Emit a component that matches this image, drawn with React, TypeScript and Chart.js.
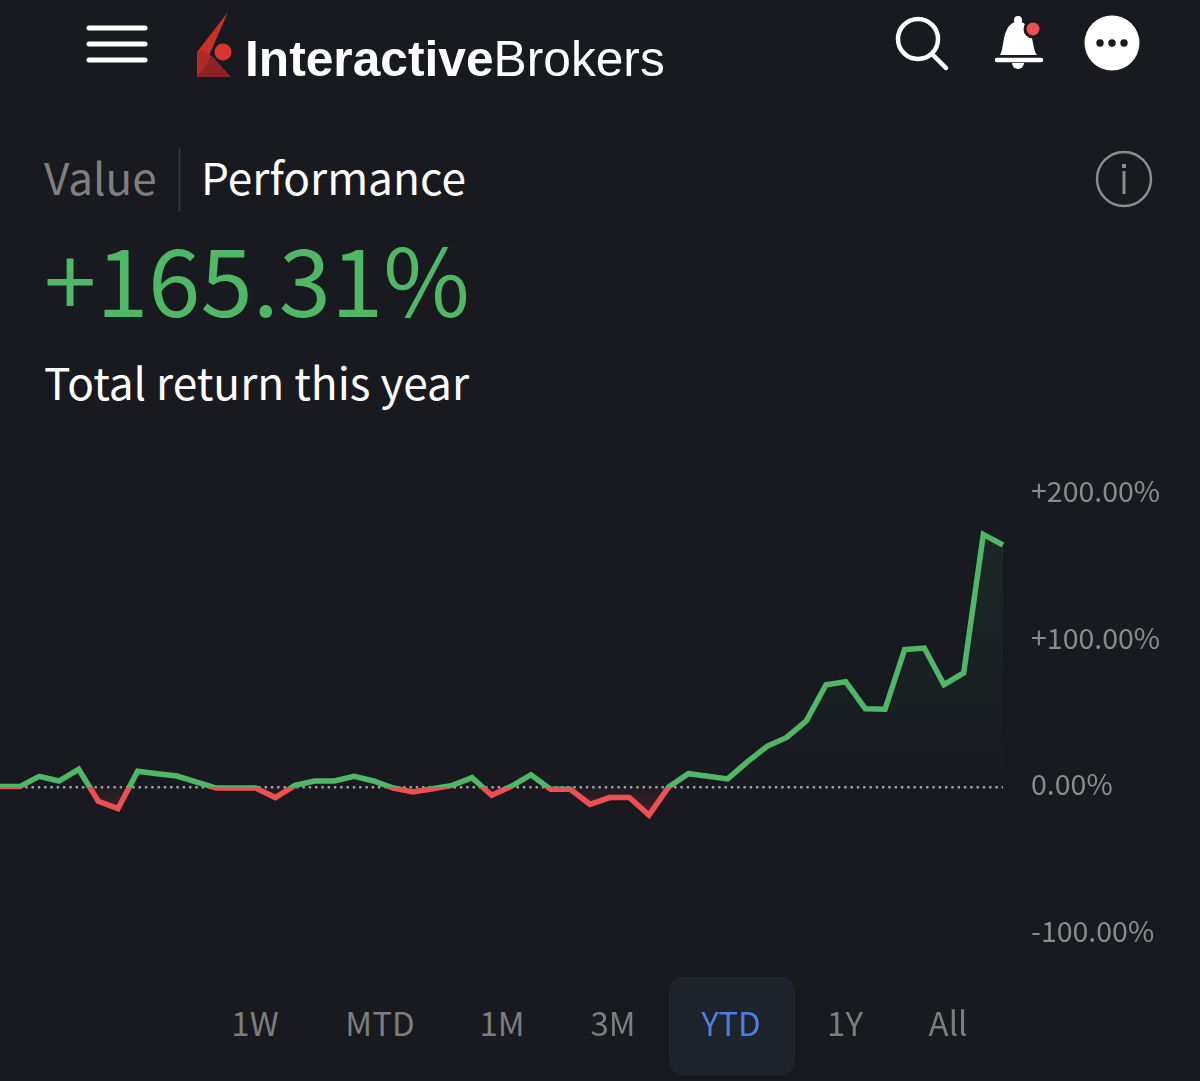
import { useEffect, useRef, type CSSProperties } from 'react'
import Chart from 'chart.js/auto'

// YTD return in %, one point per week
const returns = [
  0.5, 0.5, 7.5, 4.3, 12.3, -9.5, -14.5, 11, 9.3, 7.7, 3.6, -0.5, -0.5,
  -0.5, -7, 1.3, 4.3, 4.3, 7.5, 4.3, -0.5, -3.2, -1, 1.3, 6.6, -5.5,
  0.7, 8.6, -1.4, -1.4, -11.6, -7, -7, -19, 0.2, 9.3, 7.5, 5.7, 17.3,
  28, 34, 45.3, 70, 72, 53.6, 53.2, 94, 95, 70, 78, 172.5, 165.31,
]
const weeks = returns.map((_, i) => `W${i + 1}`)
const tabs = ['1W', 'MTD', '1M', '3M', 'YTD', '1Y', 'All']
const tabCenters = [255, 380, 502, 613, 731, 845, 948]

const GREEN = '#50b766'
const RED = '#ee4f52'
const BG = '#181a20'
const FONT = '"Noto Sans CJK SC", "Noto Sans", sans-serif'

const fmtTick = (v: number) => `${v > 0 ? '+' : ''}${v.toFixed(2)}%`

// share of the chart height at which a value sits
const stopAt = (chart: Chart, v: number) => {
  const { top, bottom } = chart.chartArea
  const y = chart.scales.y.getPixelForValue(v)
  return Math.min(1, Math.max(0, (y - top) / (bottom - top)))
}

function ReturnChart() {
  const canvasRef = useRef<HTMLCanvasElement>(null)

  useEffect(() => {
    if (!canvasRef.current) return
    const chart = new Chart(canvasRef.current, {
      type: 'line',
      data: {
        labels: weeks,
        datasets: [
          {
            data: returns,
            borderWidth: 5.5,
            borderJoinStyle: 'miter',
            tension: 0,
            pointRadius: 0,
            fill: { target: { value: 0 } },
            borderColor: (ctx: any) => {
              const c = ctx.chart
              if (!c.chartArea) return GREEN
              const s = stopAt(c, 0)
              const g = c.ctx.createLinearGradient(0, c.chartArea.top, 0, c.chartArea.bottom)
              g.addColorStop(0, GREEN)
              g.addColorStop(s, GREEN)
              g.addColorStop(s, RED)
              g.addColorStop(1, RED)
              return g
            },
            backgroundColor: (ctx: any) => {
              const c = ctx.chart
              if (!c.chartArea) return 'transparent'
              const g = c.ctx.createLinearGradient(0, c.chartArea.top, 0, c.chartArea.bottom)
              g.addColorStop(stopAt(c, 172.5), 'rgba(80,183,102,0.09)')
              g.addColorStop(stopAt(c, 20), 'rgba(80,183,102,0.012)')
              g.addColorStop(stopAt(c, 0), 'rgba(80,183,102,0)')
              g.addColorStop(stopAt(c, 0), 'rgba(238,79,82,0.03)')
              g.addColorStop(stopAt(c, -19), 'rgba(238,79,82,0.2)')
              return g
            },
          },
        ],
      },
      options: {
        animation: false,
        responsive: false,
        layout: { padding: { top: 24, bottom: 27, left: 0, right: 0 } },
        plugins: { legend: { display: false }, tooltip: { enabled: false } },
        scales: {
          x: { display: false, offset: false },
          y: {
            position: 'right',
            min: -100,
            max: 200,
            afterFit: (scale: any) => { scale.width = 197 },
            border: { display: false, dash: [2.4, 3.9] },
            grid: {
              drawTicks: false,
              lineWidth: 2.5,
              color: (ctx: any) => (ctx.tick.value === 0 ? '#a0a0a0' : 'transparent'),
            },
            ticks: {
              stepSize: 100,
              padding: 28,
              labelOffset: -3,
              color: '#8b8b8b',
              font: { family: FONT, size: 28.5 },
              callback: (v: any) => fmtTick(Number(v)),
            },
          },
        },
      },
    })
    return () => { chart.destroy() }
  }, [])

  return (
    <canvas
      ref={canvasRef}
      width={1200}
      height={530}
      style={{ position: 'absolute', left: 0, top: 449, width: 1200, height: 530 }}
    />
  )
}

const label = (x: number, cy: number, size: number, color: string): CSSProperties => ({
  position: 'absolute',
  left: x,
  top: cy,
  transform: 'translateY(-50%)',
  fontFamily: FONT,
  fontSize: size,
  lineHeight: 1,
  color,
  whiteSpace: 'nowrap',
})

export default function App() {
  return (
    <div style={{ position: 'absolute', left: 0, top: 0, width: 1200, height: 1081, background: BG, overflow: 'hidden' }}>
      {/* Header */}
      <svg width={1200} height={220} style={{ position: 'absolute', left: 0, top: 0 }}>
        <g stroke="#fff" strokeWidth={5} strokeLinecap="round">
          <line x1={89} y1={28} x2={145} y2={28} />
          <line x1={89} y1={44} x2={145} y2={44} />
          <line x1={89} y1={60} x2={145} y2={60} />
        </g>
        <polygon points="228,12 197,52 197,77 213,77 208,58" fill="#c9302c" />
        <polygon points="197,77 212,56 201,50 197,52" fill="#b02a28" />
        <polygon points="197,77 212,56 231,77" fill="#8e2327" />
        <circle cx={223} cy={52} r={8.5} fill="#d9342f" />
        <circle cx={918} cy={39} r={20} fill="none" stroke="#fff" strokeWidth={4.5} />
        <line x1={932} y1={54} x2={946} y2={68} stroke="#fff" strokeWidth={4.5} strokeLinecap="round" />
        <path d="M1000 55 C1005 48 1001 24 1018 21 C1035 24 1031 48 1037 55 Z" fill="#fff" />
        <circle cx={1018} cy={20} r={4} fill="#fff" />
        <line x1={997} y1={60} x2={1041} y2={60} stroke="#fff" strokeWidth={4.5} strokeLinecap="round" />
        <path d="M1012 63 a6 6 0 0 0 12 0 Z" fill="#fff" />
        <circle cx={1033} cy={29} r={9.5} fill={BG} />
        <circle cx={1033} cy={29} r={6.5} fill={RED} />
        <circle cx={1112} cy={43} r={27.5} fill="#fff" />
        <circle cx={1100} cy={43} r={3.7} fill={BG} />
        <circle cx={1112} cy={43} r={3.7} fill={BG} />
        <circle cx={1124} cy={43} r={3.7} fill={BG} />
        <circle cx={1124} cy={179} r={27} fill="none" stroke="#8c8c8c" strokeWidth={2.5} />
        <rect x={1122} y={164} width={4} height={4} fill="#8c8c8c" />
        <rect x={1122.5} y={171} width={3} height={23} fill="#8c8c8c" />
        <line x1={179.5} y1={148} x2={179.5} y2={211} stroke="#3a3c40" strokeWidth={1.5} />
      </svg>
      <div style={{ position: 'absolute', left: 245, top: 60, transform: 'translateY(-50%)', fontFamily: '"Liberation Sans"', fontSize: 49.7, lineHeight: 1, color: '#fff', whiteSpace: 'nowrap' }}>
        <b>Interactive</b>Brokers
      </div>

      <div style={label(44, 176, 44, '#7f7f7f')}>Value</div>
      <div style={label(201, 176, 44.2, '#fff')}>Performance</div>
      <div style={label(44, 276, 94, GREEN)}>+165.31%</div>
      <div style={label(44, 381, 44.2, '#fff')}>Total return this year</div>

      <ReturnChart />

      {/* Range tabs */}
      <div style={{ position: 'absolute', left: 669, top: 977, width: 126, height: 98, borderRadius: 14, background: '#1f232c' }} />
      {tabs.map((t, i) => (
        <div
          key={t}
          style={{
            ...label(tabCenters[i], 1022, 33, t === 'YTD' ? '#4c80e0' : '#7d7d7d'),
            transform: 'translate(-50%, -50%)',
          }}
        >
          {t}
        </div>
      ))}
    </div>
  )
}
